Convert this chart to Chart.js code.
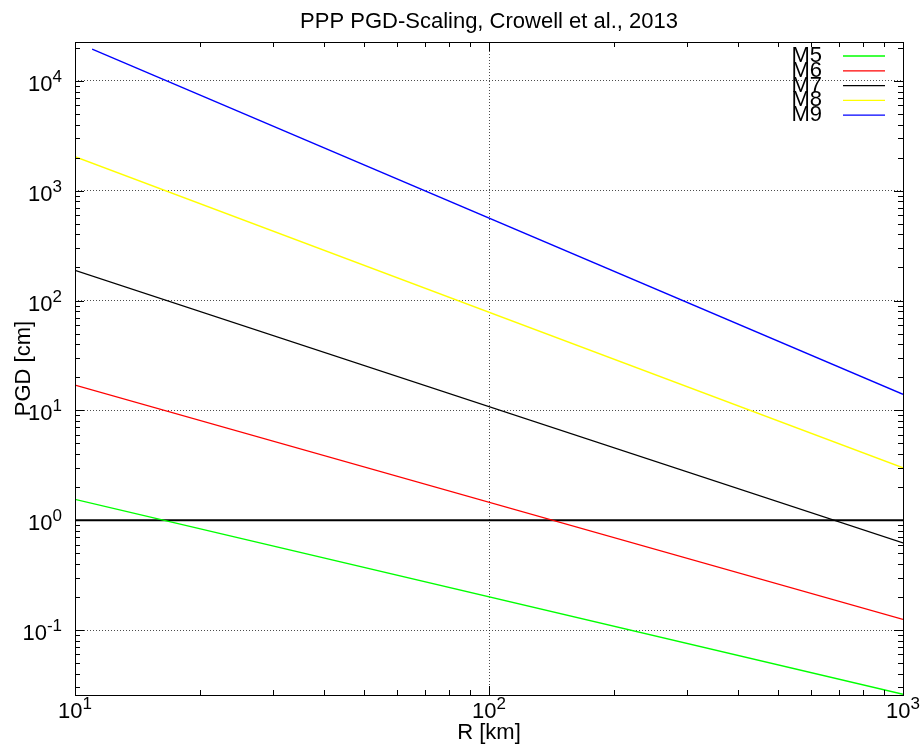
<!DOCTYPE html>
<html>
<head>
<meta charset="utf-8">
<script src="https://cdn.jsdelivr.net/npm/chart.js@4.4.1/dist/chart.umd.min.js"></script>
<style>
  html, body { margin: 0; padding: 0; background: #fff; }
  canvas { display: block; }
</style>
</head>
<body>
<canvas id="pgdChart" width="924" height="747"></canvas>
<script>
// distances in km, PGD in cm
const radii = [10, 1000];
const radiiM9 = [11, 1000];
const pgdM5 = [1.55, 0.026];
const pgdM6 = [17, 0.125];
const pgdM7 = [188, 0.62];
const pgdM8 = [2040, 3.0];
const pgdM9 = [19500, 14];
const thresholdR = [10, 1000];
const thresholdPgd = [1, 1];

const seriesLabels = ["M5", "M6", "M7", "M8", "M9"];
const seriesColors = ["#00ff00", "#ff0000", "#000000", "#ffff00", "#0000ff"];
const xRange = [10, 1000];
const yRange = [0.0256, 22600];

const FONT = "Liberation Sans, Arial, Helvetica, sans-serif";

function points(xs, ys) {
  return xs.map((x, i) => ({ x: x, y: ys[i] }));
}

function isDecade(v) {
  const l = Math.log10(v);
  return Math.abs(l - Math.round(l)) < 1e-6;
}

function logTicks(min, max) {
  const out = [];
  for (let e = Math.floor(Math.log10(min)); e <= Math.ceil(Math.log10(max)); e++) {
    for (let k = 1; k <= 9; k++) {
      const v = k * Math.pow(10, e);
      if (v >= min * 0.9999 && v <= max * 1.0001) out.push(v);
    }
  }
  return out;
}

function drawPower(ctx, exp, x, y, align) {
  ctx.font = "22px " + FONT;
  const w1 = ctx.measureText("10").width;
  ctx.font = "17px " + FONT;
  const w2 = ctx.measureText(String(exp)).width;
  const total = w1 + w2;
  const start = align === "right" ? x - total : x - total / 2;
  ctx.textAlign = "left";
  ctx.textBaseline = "alphabetic";
  ctx.font = "22px " + FONT;
  ctx.fillText("10", start, y);
  ctx.font = "17px " + FONT;
  ctx.fillText(String(exp), start + w1, y - 9);
}

const gnuplotLook = {
  id: "gnuplotLook",
  afterDraw(chart) {
    const ctx = chart.ctx;
    const area = chart.chartArea;
    const xs = chart.scales.x;
    const ys = chart.scales.y;
    ctx.save();
    ctx.strokeStyle = "#000";
    ctx.fillStyle = "#000";
    ctx.lineWidth = 1;

    // ticks pointing inward on all four sides
    ctx.beginPath();
    logTicks(xRange[0], xRange[1]).forEach((v) => {
      const px = Math.round(xs.getPixelForValue(v)) + 0.5;
      const len = isDecade(v) ? 9 : 5;
      ctx.moveTo(px, area.bottom);
      ctx.lineTo(px, area.bottom - len);
      ctx.moveTo(px, area.top);
      ctx.lineTo(px, area.top + len);
    });
    logTicks(yRange[0], yRange[1]).forEach((v) => {
      const py = Math.round(ys.getPixelForValue(v)) + 0.5;
      const len = isDecade(v) ? 9 : 5;
      ctx.moveTo(area.left, py);
      ctx.lineTo(area.left + len, py);
      ctx.moveTo(area.right, py);
      ctx.lineTo(area.right - len, py);
    });
    ctx.stroke();

    // frame
    ctx.strokeRect(Math.round(area.left) + 0.5, Math.round(area.top) + 0.5,
      Math.round(area.right - area.left), Math.round(area.bottom - area.top));

    // tick labels
    logTicks(xRange[0], xRange[1]).filter(isDecade).forEach((v) => {
      drawPower(ctx, Math.round(Math.log10(v)), xs.getPixelForValue(v), area.bottom + 23, "center");
    });
    logTicks(yRange[0], yRange[1]).filter(isDecade).forEach((v) => {
      drawPower(ctx, Math.round(Math.log10(v)), area.left - 13, ys.getPixelForValue(v) + 10, "right");
    });

    // titles
    const cx = (area.left + area.right) / 2;
    ctx.font = "22px " + FONT;
    ctx.textAlign = "center";
    ctx.textBaseline = "alphabetic";
    ctx.fillText("PPP PGD-Scaling, Crowell et al., 2013", cx, 28);
    ctx.fillText("R [km]", cx, 739);
    ctx.save();
    ctx.translate(30, (area.top + area.bottom) / 2);
    ctx.rotate(-Math.PI / 2);
    ctx.fillText("PGD [cm]", 0, 0);
    ctx.restore();

    // legend
    ctx.textAlign = "right";
    ctx.textBaseline = "middle";
    seriesLabels.forEach((label, i) => {
      const ry = 56 + i * 14.8;
      ctx.fillStyle = "#000";
      ctx.fillText(label, 822, ry);
      ctx.strokeStyle = seriesColors[i];
      ctx.lineWidth = 1.3;
      ctx.beginPath();
      ctx.moveTo(843, ry);
      ctx.lineTo(885, ry);
      ctx.stroke();
    });
    ctx.restore();
  },
};

function series(label, xs, ys, color) {
  return {
    label: label,
    data: points(xs, ys),
    borderColor: color,
    backgroundColor: color,
    borderWidth: 1.3,
    pointRadius: 0,
    tension: 0,
    fill: false,
  };
}

const ctx = document.getElementById("pgdChart").getContext("2d");

new Chart(ctx, {
  type: "line",
  data: {
    datasets: [
      series("M5", radii, pgdM5, seriesColors[0]),
      series("M6", radii, pgdM6, seriesColors[1]),
      series("M7", radii, pgdM7, seriesColors[2]),
      series("M8", radii, pgdM8, seriesColors[3]),
      series("M9", radiiM9, pgdM9, seriesColors[4]),
      Object.assign(series("1 cm", thresholdR, thresholdPgd, "#000000"), { borderWidth: 2 }),
    ],
  },
  options: {
    responsive: false,
    animation: false,
    maintainAspectRatio: false,
    layout: { padding: { left: 0, right: 21, top: 42, bottom: 0 } },
    plugins: {
      legend: { display: false },
      title: { display: false },
      tooltip: { enabled: false },
    },
    scales: {
      x: {
        type: "logarithmic",
        min: xRange[0],
        max: xRange[1],
        ticks: { display: false },
        border: { display: false, dash: [1, 2] },
        grid: {
          drawTicks: false,
          color: (c) => (c.tick && isDecade(c.tick.value) ? "rgba(0,0,0,0.7)" : "rgba(0,0,0,0)"),
        },
        afterFit: (s) => { s.height = 52; },
      },
      y: {
        type: "logarithmic",
        min: yRange[0],
        max: yRange[1],
        ticks: { display: false },
        border: { display: false, dash: [1, 2] },
        grid: {
          drawTicks: false,
          color: (c) => (c.tick && isDecade(c.tick.value) ? "rgba(0,0,0,0.7)" : "rgba(0,0,0,0)"),
        },
        afterFit: (s) => { s.width = 75; },
      },
    },
  },
  plugins: [gnuplotLook],
});
</script>
</body>
</html>
